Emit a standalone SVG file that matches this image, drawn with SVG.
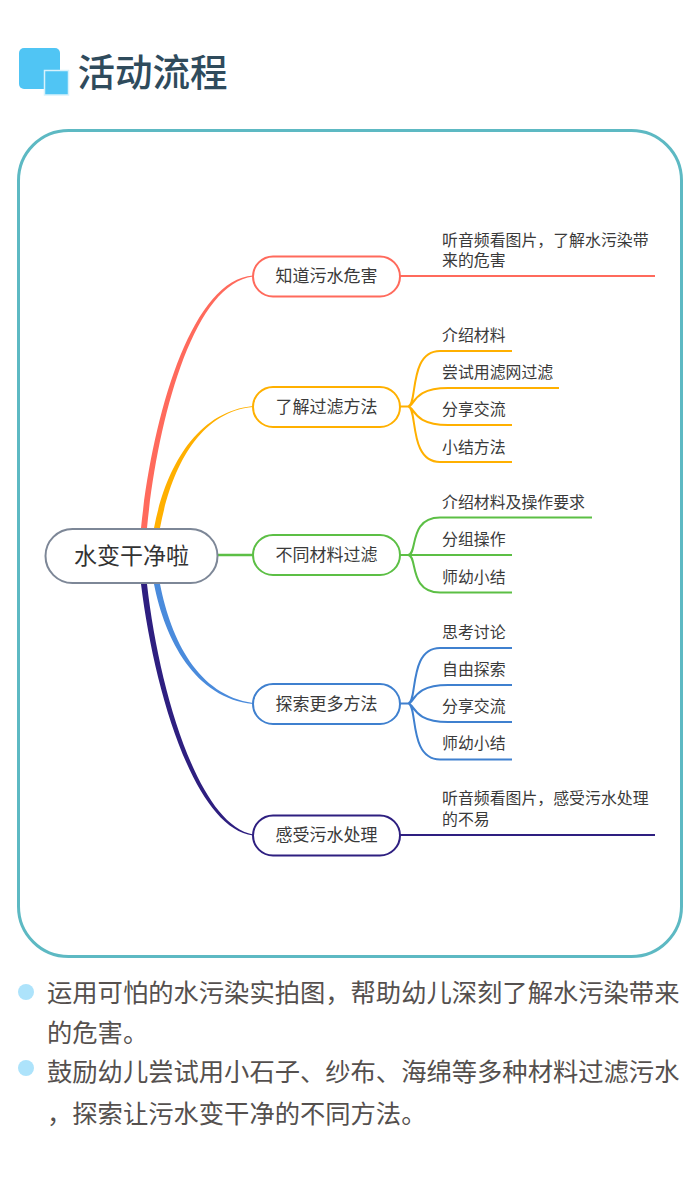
<svg xmlns="http://www.w3.org/2000/svg" width="700" height="1177" viewBox="0 0 700 1177">
<style>
text{font-family:"Liberation Sans","Noto Sans CJK SC",sans-serif}
.title{font-size:37.5px;font-weight:500;fill:#2f4b5c}
.root{font-size:23px;fill:#333}
.topic{font-size:17px;fill:#3a3a3a;text-anchor:middle}
.sub{font-size:15.9px;fill:#3a3a3a}
.body{font-size:25.3px;fill:#55504e}
.box{fill:#fff;stroke-width:2}
.link{fill:none;stroke-width:2}
.red{stroke:#ff6a5c}.org{stroke:#ffb000}.grn{stroke:#5cbf45}.blu{stroke:#3f80cf}.ind{stroke:#2e1f80}
</style>
<g id="heading">
<rect x="19" y="48" width="41" height="41" rx="5" fill="#50c5f4"/>
<rect x="44.500" y="70.500" width="24" height="24.500" fill="#50c5f4" stroke="#d8f2fc" stroke-width="1.500"/>
<text class="title" x="77.500" y="86">活动流程</text>
</g>
<rect id="frame" x="18.500" y="130.500" width="663" height="826" rx="50" fill="#fff" stroke="#5db9c3" stroke-width="3"/>
<g id="connectors">
<!-- tapered main branches, wide at the central topic and fine at each child -->
<path d="M141 528C152 420 190 280 253 275.500V276.500C192 284 157 424 147 528Z" fill="#ff6a5c"/>
<path d="M154 528C165 470 195 412 253 406V407C198 412 171 470 160 528Z" fill="#ffb000"/>
<path d="M216 555H253" fill="none" stroke="#5cbf45" stroke-width="2.500"/>
<path d="M154 584C165 640 195 698 253 704V703C198 695 171 640 160 584Z" fill="#4a8bdc"/>
<path d="M141 584C154 690 194 828 253 835.500V834.500C198 824 159 690 147 584Z" fill="#2e1f80"/>
<path class="link red" d="M400 276H655"/>
<path class="link org" d="M400 406.500H408M408 406.500C418 406.500 408 351 440 351H512M408 406.500C415 406.500 412 388 448 388H559M408 406.500C415 406.500 412 425 448 425H512M408 406.500C418 406.500 408 462 440 462H512"/>
<path class="link grn" d="M400 555H408M408 555C418 555 408 517.500 440 517.500H592M408 555H512M408 555C418 555 408 592.500 440 592.500H512"/>
<path class="link blu" d="M400 703.500H408M408 703.500C418 703.500 408 648 440 648H512M408 703.500C415 703.500 412 685 448 685H512M408 703.500C415 703.500 412 722 448 722H512M408 703.500C418 703.500 408 759.500 440 759.500H512"/>
<path class="link ind" d="M400 835H655"/>
</g>
<g id="root"><rect x="45.500" y="529" width="172" height="54" rx="27" class="box" stroke="#7d8797"/><text class="root" x="74" y="564">水变干净啦</text></g>
<g id="topic-1"><rect x="253" y="256.500" width="147" height="40" rx="20" class="box red"/><text class="topic" x="326.500" y="282">知道污水危害</text></g>
<g id="topic-2"><rect x="253" y="387" width="147" height="40" rx="20" class="box org"/><text class="topic" x="326.500" y="412.500">了解过滤方法</text></g>
<g id="topic-3"><rect x="253" y="535" width="147" height="40" rx="20" class="box grn"/><text class="topic" x="326.500" y="560.500">不同材料过滤</text></g>
<g id="topic-4"><rect x="253" y="684" width="147" height="40" rx="20" class="box blu"/><text class="topic" x="326.500" y="709.500">探索更多方法</text></g>
<g id="topic-5"><rect x="253" y="815.500" width="147" height="40" rx="20" class="box ind"/><text class="topic" x="326.500" y="841">感受污水处理</text></g>
<g id="labels">
<text class="sub" x="442" y="246">听音频看图片，了解水污染带</text>
<text class="sub" x="442" y="266">来的危害</text>
<text class="sub" x="442" y="341">介绍材料</text>
<text class="sub" x="442" y="378">尝试用滤网过滤</text>
<text class="sub" x="442" y="415">分享交流</text>
<text class="sub" x="442" y="453">小结方法</text>
<text class="sub" x="442" y="508">介绍材料及操作要求</text>
<text class="sub" x="442" y="545">分组操作</text>
<text class="sub" x="442" y="583">师幼小结</text>
<text class="sub" x="442" y="638">思考讨论</text>
<text class="sub" x="442" y="675">自由探索</text>
<text class="sub" x="442" y="712">分享交流</text>
<text class="sub" x="442" y="749">师幼小结</text>
<text class="sub" x="442" y="804">听音频看图片，感受污水处理</text>
<text class="sub" x="442" y="825">的不易</text>
</g>
<g id="notes">
<circle cx="26" cy="992" r="8" fill="#ade3fb"/>
<circle cx="26" cy="1068" r="8" fill="#ade3fb"/>
<text class="body" x="47" y="1002">运用可怕的水污染实拍图，帮助幼儿深刻了解水污染带来</text>
<text class="body" x="47" y="1042">的危害。</text>
<text class="body" x="47" y="1081">鼓励幼儿尝试用小石子、纱布、海绵等多种材料过滤污水</text>
<text class="body" x="47" y="1123">，探索让污水变干净的不同方法。</text>
</g>
</svg>
